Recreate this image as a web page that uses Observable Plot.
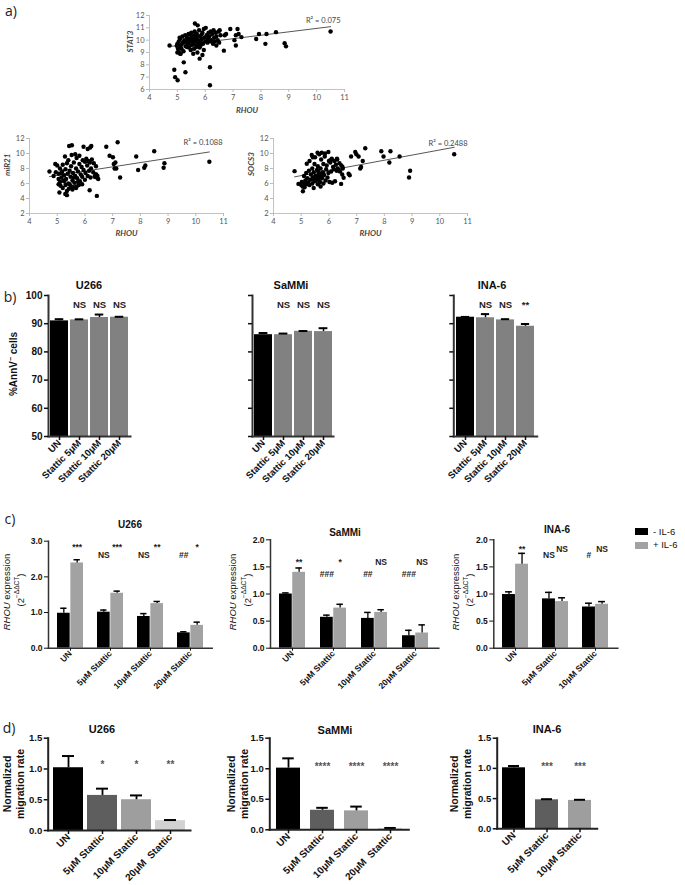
<!DOCTYPE html>
<html><head><meta charset="utf-8">
<script src="https://cdn.jsdelivr.net/npm/d3@7"></script>
<script src="https://cdn.jsdelivr.net/npm/@observablehq/plot@0.6"></script>
<style>
body{margin:0;background:#fff}
#root{position:relative;width:685px;height:885px;overflow:hidden;background:#fff}
#root svg{position:absolute}
.lbl{position:absolute;white-space:nowrap;transform:translate(-50%,-50%);font-family:'Liberation Sans',Arial,sans-serif;color:#111;line-height:1.15;text-align:center}
.rot{transform:translate(-50%,-50%) rotate(-90deg)}
</style></head><body><div id="root"></div><script>
// ---------- Panel a: scatter data (RHOU vs gene) ----------
const rhouStat3 = [4.72,4.89,4.92,5.01,5.23,5.29,5.0,5.1,5.63,5.73,5.57,5.8,5.9,5.95,6.17,6.17,6.67,6.4,6.9,7.1,7.16,7.2,7.3,7.05,7.1,6.75,6.7,7.83,7.93,8.16,8.2,8.54,8.85,8.9,10.5,
5.05,5.1,5.12,5.15,5.18,5.2,5.22,5.25,5.28,5.3,5.32,5.35,5.38,5.4,5.42,5.45,5.47,5.5,5.5,5.52,5.55,5.57,5.6,5.6,5.62,5.65,5.67,5.7,5.7,5.72,5.75,5.78,5.8,5.82,5.85,5.88,5.9,5.92,5.95,5.98,6.0,6.02,6.05,6.08,6.1,6.12,6.15,6.18,6.2,6.22,6.25,6.28,6.3,6.32,6.35,6.38,6.4,6.45,6.48,6.5,6.52,6.55,
5.25,5.35,5.4,5.45,5.48,5.53,5.58,5.63,5.68,5.73,5.77,5.83,5.87,5.15,5.1,5.08,5.0,5.02,4.98,5.05,5.12];
const stat3 = [9.57,7.6,7.0,6.75,8.2,7.4,9.0,8.9,11.35,11.2,8.9,8.5,8.8,9.2,7.8,6.35,9.15,9.57,10.9,10.4,10.9,10.5,10.25,10.0,9.57,10.5,10.4,10.1,10.5,9.7,10.5,10.65,9.75,9.5,10.7,
9.9,10.1,9.6,9.3,10.3,9.8,9.1,10.0,10.4,9.5,9.9,10.2,9.7,10.5,9.4,10.1,9.9,10.6,9.6,10.3,9.8,10.0,10.4,9.3,10.7,9.9,10.2,9.6,10.5,9.0,10.0,10.8,9.4,10.3,9.8,10.1,10.6,9.7,10.9,10.2,9.9,11.0,10.4,9.8,10.1,10.6,10.3,9.9,10.7,10.0,10.5,9.7,10.8,10.2,9.9,10.6,10.3,10.0,10.7,9.8,10.8,10.4,
9.85,9.45,10.0,10.45,9.2,10.05,9.65,10.15,9.45,10.35,9.75,9.55,10.45,9.65,9.4,10.2,9.7,9.3,9.55,9.05,8.9];

const rhouMir21 = [4.72,4.87,4.93,5.05,5.08,5.29,5.35,5.43,5.53,5.95,6.19,6.23,6.1,6.17,6.43,6.43,6.41,6.77,6.89,7.01,7.04,7.1,7.07,7.18,7.13,7.27,7.85,7.92,8.14,8.18,8.5,8.84,8.87,10.49,
5.0,5.05,5.1,5.1,5.12,5.15,5.18,5.2,5.2,5.22,5.25,5.28,5.3,5.3,5.32,5.35,5.38,5.4,5.4,5.42,5.45,5.48,5.5,5.5,5.52,5.55,5.57,5.6,5.6,5.62,5.65,5.65,5.68,5.7,5.7,5.72,5.75,5.78,5.8,5.8,5.82,5.85,5.88,5.9,5.92,5.95,6.0,6.0,6.02,6.05,6.08,6.1,6.12,6.15,6.18,6.2,6.22,6.25,6.3,6.32,6.35,6.38,6.4,6.45,6.48,
5.35,5.45,5.55,5.25,5.15,4.95,5.05,5.6,5.75,5.9,5.68];
const mir21 = [7.6,7.0,8.6,5.9,4.8,4.6,4.45,11.0,11.1,10.9,10.8,11.0,10.6,5.1,4.35,6.8,7.2,10.9,9.7,9.5,8.6,8.8,8.0,11.5,8.0,6.8,9.6,7.8,8.1,8.4,10.3,8.1,8.7,8.9,
8.4,7.3,6.2,8.0,5.7,6.8,7.6,5.4,8.5,6.4,7.1,9.6,5.8,7.9,6.6,8.7,7.3,6.0,9.1,5.3,7.7,6.9,8.3,5.6,9.8,6.4,7.4,8.8,5.5,6.1,9.9,7.0,8.0,5.6,9.4,6.7,7.6,5.8,8.6,9.7,6.3,7.2,8.2,6.9,9.1,7.8,8.9,6.5,7.4,9.3,8.4,7.0,9.0,7.7,8.8,6.8,8.0,9.2,7.5,8.7,6.9,7.2,8.3,7.0,6.6,
5.0,5.9,5.2,6.3,7.4,7.5,6.6,6.8,6.2,5.9,5.4];

const rhouSocs3 = [4.76,4.9,5.06,5.2,5.42,5.59,5.74,5.86,5.98,6.05,6.1,6.29,6.49,6.44,6.53,6.71,6.75,6.8,6.95,6.99,7.07,7.13,7.16,7.22,7.31,7.89,7.97,8.18,8.22,8.55,8.89,8.93,10.52,
5.0,5.02,5.05,5.1,5.1,5.12,5.15,5.18,5.2,5.22,5.25,5.28,5.3,5.3,5.32,5.35,5.38,5.4,5.4,5.42,5.45,5.45,5.48,5.5,5.5,5.52,5.55,5.57,5.6,5.6,5.62,5.65,5.65,5.68,5.7,5.7,5.72,5.75,5.78,5.8,5.8,5.82,5.85,5.88,5.9,5.92,5.95,5.98,6.0,6.02,6.05,6.08,6.1,6.12,6.15,6.18,6.2,6.22,6.25,6.28,6.3,6.32,6.35,6.38,6.4,6.45,6.48,6.5,
5.55,5.62,5.68,5.75,5.5,5.45,5.6,5.7,5.8];
const socs3 = [7.65,5.95,4.96,8.63,9.5,10.1,10.1,10.0,10.2,9.1,9.3,9.3,8.2,5.95,6.76,7.3,7.1,9.6,10.2,9.9,9.6,8.0,8.2,9.0,10.7,10.3,9.6,8.8,10.3,9.6,6.8,7.7,9.9,
5.8,6.2,5.6,6.0,7.0,5.5,6.4,7.4,5.9,6.7,6.1,7.7,5.8,9.0,6.5,7.2,9.8,6.0,8.0,6.8,5.4,7.5,8.6,6.3,9.5,7.0,6.6,7.8,5.9,8.3,6.9,9.9,7.3,6.2,8.0,5.6,9.2,6.7,7.5,8.6,6.0,7.1,9.6,6.4,7.9,8.4,6.8,7.4,9.0,6.2,8.8,7.6,9.2,6.1,8.2,7.9,9.0,6.3,8.5,7.7,9.2,8.0,7.8,8.7,7.6,8.4,7.2,8.0,
7.05,7.6,7.0,7.2,6.9,6.5,6.5,6.8,7.3];

// ---------- Panel b: %AnnV- cells ----------
const condB = ["UN", "Stattic 5μM", "Stattic 10μM", "Stattic 20μM"];
const annU266 = [91.0, 91.35, 92.2, 92.3], annU266Err = [0.6, 0.2, 1.05, 0.15];
const annSaMMi = [86.1, 86.1, 87.3, 87.2], annSaMMiErr = [0.6, 0.4, 0.1, 1.2];
const annINA6 = [92.3, 92.1, 91.35, 89.1], annINA6Err = [0.1, 1.3, 0.25, 0.8];
const sigBU266 = ["", "NS", "NS", "NS"], sigBSaMMi = ["", "NS", "NS", "NS"], sigBINA6 = ["", "NS", "NS", "**"];

// ---------- Panel c: RHOU expression (2^-ΔΔCT) ----------
const groupsC = ["UN", "5μM Stattic", "10μM Stattic", "20μM Stattic"];
const seriesC = ["- IL-6", "+ IL-6"];
const cU266Minus = [0.98, 1.01, 0.89, 0.43], cU266MinusErr = [0.14, 0.06, 0.08, 0.03];
const cU266Plus = [2.39, 1.54, 1.25, 0.64], cU266PlusErr = [0.09, 0.06, 0.06, 0.09];
const cSaMMiMinus = [1.00, 0.57, 0.55, 0.23], cSaMMiMinusErr = [0.02, 0.04, 0.11, 0.10];
const cSaMMiPlus = [1.40, 0.74, 0.66, 0.28], cSaMMiPlusErr = [0.08, 0.07, 0.05, 0.15];
const cINA6Minus = [0.99, 0.91, 0.76], cINA6MinusErr = [0.05, 0.12, 0.07];
const cINA6Plus = [1.55, 0.86, 0.81], cINA6PlusErr = [0.20, 0.07, 0.05];
const starsCU266 = ["***", "***", "**", "*"], hashCU266 = ["", "NS", "NS", "##"];
const starsCSaMMi = ["**", "*", "NS", "NS"], hashCSaMMi = ["", "###", "##", "###"];
const starsCINA6 = ["**", "NS", "NS"], hashCINA6 = ["", "NS", "#"];

// ---------- Panel d: normalized migration rate ----------
const condD = ["UN", "5μM Stattic", "10μM Stattic", "20μM  Stattic"];
const migU266 = [1.02, 0.57, 0.50, 0.16], migU266Err = [0.19, 0.11, 0.07, 0.01];
const migSaMMi = [1.01, 0.32, 0.31, 0.02], migSaMMiErr = [0.16, 0.04, 0.07, 0.01];
const migINA6 = [1.01, 0.48, 0.47], migINA6Err = [0.03, 0.01, 0.01];
const sigDU266 = ["", "*", "*", "**"], sigDSaMMi = ["", "****", "****", "****"], sigDINA6 = ["", "***", "***"];

// ---------- helpers ----------
const root = document.getElementById("root");
const SANS = "'Liberation Sans', Arial, sans-serif";
function place(svg, left, top) { svg.style.left = left + "px"; svg.style.top = top + "px"; root.appendChild(svg); }
function label(html, x, y, css = "", rot = false) {
  const d = document.createElement("div");
  d.className = "lbl" + (rot ? " rot" : "");
  d.innerHTML = html; d.style.left = x + "px"; d.style.top = y + "px";
  d.style.cssText += css; root.appendChild(d);
}

function scatter(xs, ys, o) {
  const data = xs.map((x, i) => ({x, y: ys[i]}));
  return Plot.plot({
    width: o.w, height: o.h, marginLeft: o.ml, marginRight: o.mr, marginTop: o.mt, marginBottom: o.mb,
    style: {fontFamily: "Lato, 'Open Sans', sans-serif", fontSize: "7.5px", background: "transparent", overflow: "visible", color: "#555"},
    x: {domain: [4, 11]},
    y: {domain: o.yDomain},
    marks: [
      Plot.ruleX([4], {stroke: "#c2c2c2"}),
      Plot.ruleY([o.yDomain[0]], {stroke: "#c2c2c2"}),
      Plot.axisX({ticks: d3.range(4, 12), tickFormat: d => String(d), tickSize: 3, tickPadding: 2, stroke: "#bbb", label: null}),
      Plot.axisY({ticks: o.yTicks, tickFormat: d => String(d), tickSize: 3, tickPadding: 2, stroke: "#bbb", label: null}),
      Plot.linearRegressionY(data, {x: "x", y: "y", stroke: "#444", strokeWidth: 0.9, ci: 0}),
      Plot.dot(data, {x: "x", y: "y", r: 2.2, fill: "#000"}),
      Plot.text([o.r2], {text: d => d, frameAnchor: "top-right", dx: o.r2dx, dy: o.r2dy, textAnchor: "end", fill: "#444", fontSize: 7.5}),
      Plot.text(["RHOU"], {text: d => d, frameAnchor: "bottom", dy: o.xlabDy, fontStyle: "italic", fontWeight: "bold", fill: "#444", fontSize: 8}),
      Plot.text([o.ylab], {text: d => d, frameAnchor: "left", dx: o.ylabDx, rotate: -90, fontStyle: "italic", fontWeight: "bold", fill: "#444", fontSize: 8})
    ]
  });
}

function barsB(vals, errs, sig, o) {
  const data = condB.map((c, i) => ({c, v: vals[i], e: vals[i] + errs[i], s: sig[i], k: i === 0 ? "UN" : "Stattic"}));
  const bw = d3.scaleBand().domain(condB).range([o.ml, o.w - o.mr]).paddingInner(0.1).paddingOuter(0.05).bandwidth();
  const cap = 4.5;
  return Plot.plot({
    width: o.w, height: o.h, marginLeft: o.ml, marginRight: o.mr, marginTop: o.mt, marginBottom: o.mb,
    style: {fontFamily: SANS, fontWeight: "bold", fontSize: "9.5px", background: "transparent", overflow: "visible", color: "#111"},
    x: {domain: condB, paddingInner: 0.1, paddingOuter: 0.05},
    y: {domain: [50, 100]},
    color: {domain: ["UN", "Stattic"], range: ["#000000", "#818181"]},
    marks: [
      Plot.barY(data, {x: "c", y1: 50, y2: "v", fill: "k"}),
      Plot.ruleX(data, {x: "c", y1: "v", y2: "e", stroke: "#000", strokeWidth: 1.5}),
      Plot.tickY(data, {x: "c", y: "e", stroke: "#000", strokeWidth: 2, insetLeft: bw / 2 - cap, insetRight: bw / 2 - cap}),
      Plot.frame({anchor: "left", stroke: "#333", strokeWidth: 2}),
      Plot.frame({anchor: "bottom", stroke: "#333", strokeWidth: 2}),
      Plot.axisY({ticks: d3.range(50, 101, 10), tickSize: 4, tickPadding: 2, strokeWidth: 1.5, fontSize: 10, tickFormat: o.yLabels ? (d => d) : (() => ""), label: null}),
      Plot.axisX({tickSize: 4, tickPadding: 1, strokeWidth: 1.5, tickRotate: -45, fontSize: 9.5, label: null}),
      Plot.text(data, {x: "c", text: "s", frameAnchor: "top", dy: 6, fontSize: 9.5, fill: "#222"})
    ]
  });
}

function grouped(groups, mV, mE, pV, pE, stars, hashes, o) {
  const bw = d3.scaleBand().domain(groups).range([o.ml, o.w - o.mr]).paddingInner(o.pi).paddingOuter(o.po).bandwidth();
  const q = bw / 4, cap = 3.5;
  const minus = groups.map((g, i) => ({g, s: seriesC[0], v: mV[i], e: mV[i] + mE[i]}));
  const plus = groups.map((g, i) => ({g, s: seriesC[1], v: pV[i], e: pV[i] + pE[i]}));
  const ann = groups.map((g, i) => ({g, star: stars[i], hash: hashes[i]}));
  return Plot.plot({
    width: o.w, height: o.h, marginLeft: o.ml, marginRight: o.mr, marginTop: o.mt, marginBottom: o.mb,
    style: {fontFamily: SANS, fontWeight: "bold", fontSize: "8.5px", background: "transparent", overflow: "visible", color: "#111"},
    x: {domain: groups, paddingInner: o.pi, paddingOuter: o.po},
    y: {domain: [0, o.ymax]},
    color: {domain: seriesC, range: ["#000000", "#a2a2a2"]},
    marks: [
      Plot.barY(minus, {x: "g", y: "v", fill: "s", insetRight: bw / 2}),
      Plot.barY(plus, {x: "g", y: "v", fill: "s", insetLeft: bw / 2}),
      Plot.ruleX(minus, {x: "g", y1: "v", y2: "e", dx: -q, stroke: "#000", strokeWidth: 1.3}),
      Plot.ruleX(plus, {x: "g", y1: "v", y2: "e", dx: q, stroke: "#000", strokeWidth: 1.3}),
      Plot.tickY(minus, {x: "g", y: "e", stroke: "#000", strokeWidth: 1.5, insetLeft: q - cap, insetRight: bw - q - cap}),
      Plot.tickY(plus, {x: "g", y: "e", stroke: "#000", strokeWidth: 1.5, insetLeft: 3 * q - cap, insetRight: q - cap}),
      Plot.frame({anchor: "left", stroke: "#333", strokeWidth: 1.5}),
      Plot.frame({anchor: "bottom", stroke: "#333", strokeWidth: 1.5}),
      Plot.axisY({ticks: o.yTicks, tickSize: 4, tickPadding: 2, tickFormat: ".1f", fontSize: 8.5, label: null}),
      Plot.axisX({tickSize: 3, tickPadding: 1, tickRotate: -45, fontSize: 8.5, label: null}),
      Plot.text(ann, {x: "g", text: "star", frameAnchor: "top", dx: q, dy: o.starDy, fontSize: 8.5, fill: "#222"}),
      Plot.text(ann, {x: "g", text: "hash", frameAnchor: "top", dx: -q, dy: o.hashDy, fontSize: 8.5, fill: "#222"})
    ]
  });
}

function barsD(conds, vals, errs, sig, o) {
  const data = conds.map((c, i) => ({c, v: vals[i], e: vals[i] + errs[i], s: sig[i]}));
  const bw = d3.scaleBand().domain(conds).range([o.ml, o.w - o.mr]).paddingInner(o.pi).paddingOuter(o.po).bandwidth();
  const cap = 6;
  return Plot.plot({
    width: o.w, height: o.h, marginLeft: o.ml, marginRight: o.mr, marginTop: o.mt, marginBottom: o.mb,
    style: {fontFamily: SANS, fontWeight: "bold", fontSize: "9px", background: "transparent", overflow: "visible", color: "#111"},
    x: {domain: conds, paddingInner: o.pi, paddingOuter: o.po},
    y: {domain: [0, 1.5]},
    color: {domain: conds, range: ["#000000", "#5e5e5e", "#9e9e9e", "#d2d2d2"]},
    marks: [
      Plot.barY(data, {x: "c", y: "v", fill: "c"}),
      Plot.ruleX(data, {x: "c", y1: "v", y2: "e", stroke: "#000", strokeWidth: 1.8}),
      Plot.tickY(data, {x: "c", y: "e", stroke: "#000", strokeWidth: 2, insetLeft: bw / 2 - cap, insetRight: bw / 2 - cap}),
      Plot.frame({anchor: "left", stroke: "#222", strokeWidth: 2}),
      Plot.frame({anchor: "bottom", stroke: "#222", strokeWidth: 2}),
      Plot.axisY({ticks: [0, 0.5, 1, 1.5], tickSize: 4, tickPadding: 2, strokeWidth: 1.5, tickFormat: ".1f", fontSize: 9.5, label: null}),
      Plot.axisX({tickSize: 4, tickPadding: 1, strokeWidth: 1.5, tickRotate: -45, fontSize: 10, label: null}),
      Plot.text(data, {x: "c", text: "s", frameAnchor: "top", dy: o.sigDy, fontSize: 10, fill: "#555"})
    ]
  });
}

// ---------- Panel a ----------
place(scatter(rhouStat3, stat3, {w: 260, h: 120, ml: 49, mr: 16, mt: 15, mb: 31, yDomain: [6, 12], yTicks: d3.range(6, 13),
  r2: "R² = 0.075", r2dx: -4, r2dy: 2, xlabDy: 23, ylab: "STAT3", ylabDx: -19}), 100, 0);
place(scatter(rhouMir21, mir21, {w: 240, h: 125, ml: 29, mr: 17, mt: 13, mb: 37, yDomain: [2, 12], yTicks: d3.range(2, 13, 2),
  r2: "R² = 0.1088", r2dx: -1, r2dy: 1, xlabDy: 22, ylab: "miR21", ylabDx: -22}), 0, 125);
place(scatter(rhouSocs3, socs3, {w: 240, h: 125, ml: 33, mr: 13, mt: 13, mb: 37, yDomain: [2, 12], yTicks: d3.range(2, 13, 2),
  r2: "R² = 0.2488", r2dx: 0, r2dy: 2, xlabDy: 22, ylab: "SOCS3", ylabDx: -22}), 240, 125);

// ---------- Panel b ----------
place(barsB(annU266, annU266Err, sigBU266, {w: 140, h: 215, ml: 48, mr: 10, mt: 15, mb: 59, yLabels: true}), 0, 280);
place(barsB(annSaMMi, annSaMMiErr, sigBSaMMi, {w: 140, h: 215, ml: 52, mr: 7, mt: 15, mb: 59, yLabels: false}), 200, 280);
place(barsB(annINA6, annINA6Err, sigBINA6, {w: 145, h: 215, ml: 53.3, mr: 8.3, mt: 15, mb: 59, yLabels: false}), 400, 280);

// ---------- Panel c ----------
place(grouped(groupsC, cU266Minus, cU266MinusErr, cU266Plus, cU266PlusErr, starsCU266, hashCU266,
  {w: 215, h: 185, ml: 48, mr: 3.3, mt: 20.7, mb: 57.3, pi: 0.344, po: 0.183, ymax: 3, yTicks: [0, 1, 2, 3], starDy: 2.5, hashDy: 10.5}), 0, 520);
place(grouped(groupsC, cSaMMiMinus, cSaMMiMinusErr, cSaMMiPlus, cSaMMiPlusErr, starsCSaMMi, hashCSaMMi,
  {w: 215, h: 185, ml: 40, mr: 6.7, mt: 19.3, mb: 57.3, pi: 0.358, po: 0.217, ymax: 2, yTicks: [0, 0.5, 1, 1.5, 2], starDy: 19.5, hashDy: 31.5}), 230, 520);
place(grouped(groupsC.slice(0, 3), cINA6Minus, cINA6MinusErr, cINA6Plus, cINA6PlusErr, starsCINA6, hashCINA6,
  {w: 175, h: 185, ml: 43.3, mr: 7.7, mt: 19.3, mb: 57.3, pi: 0.359, po: 0.2, ymax: 2, yTicks: [0, 0.5, 1, 1.5, 2], starDy: 6, hashDy: 12}), 450, 520);

// ---------- Panel d ----------
place(barsD(condD, migU266, migU266Err, sigDU266, {w: 200, h: 165, ml: 47.7, mr: 10, mt: 17.7, mb: 55, pi: 0.128, po: 0.132, sigDy: 23}), 0, 720);
place(barsD(condD, migSaMMi, migSaMMiErr, sigDSaMMi, {w: 190, h: 165, ml: 39.3, mr: 11.7, mt: 17.7, mb: 55.7, pi: 0.3, po: 0.136, sigDy: 25}), 230, 720);
place(barsD(condD.slice(0, 3), migINA6, migINA6Err, sigDINA6, {w: 160, h: 165, ml: 46.7, mr: 13.3, mt: 17.7, mb: 56.7, pi: 0.288, po: 0.128, sigDy: 25}), 450, 720);

// ---------- Text: panel letters, titles, axis titles, legend ----------
const letterCss = "font-family:'Open Sans',sans-serif;font-size:14px;color:#222;";
label("a)", 11, 11, letterCss); label("b)", 10, 297, letterCss); label("c)", 10, 519, letterCss); label("d)", 9, 728, letterCss);

const tB = "font-weight:bold;font-size:11px;";
label("U266", 89, 285, tB); label("SaMMi", 291, 285, tB); label("INA-6", 492, 285, tB);
label("%AnnV<sup style='font-size:7px'>−</sup> cells", 13, 364, "font-weight:bold;font-size:10px;", true);

const tC = "font-weight:bold;font-size:10px;";
label("U266", 130, 525, tC); label("SaMMi", 345, 533, tC); label("INA-6", 557, 530, tC);
const yC1 = "<i>RHOU</i> expression", yC2 = "(2<sup style='font-size:6.5px'>−ΔΔCT</sup>)";
const yCss = "font-size:9.5px;";
label(yC1, 7, 592, yCss, true); label(yC2, 19.5, 590, yCss, true);
label(yC1, 233, 592, yCss, true); label(yC2, 247, 590, yCss, true);
label(yC1, 456, 592, yCss, true); label(yC2, 469, 590, yCss, true);

// legend (panel c)
function legendItem(color, text, y) {
  const s = document.createElement("div");
  s.style.cssText = `position:absolute;left:635px;top:${y - 3.5}px;width:13px;height:7px;background:${color}`;
  root.appendChild(s);
  label(text, 653, y, "transform:translate(0,-50%);font-size:9.5px;");
}
legendItem("#000000", seriesC[0], 531.5);
legendItem("#a2a2a2", seriesC[1], 545);

const tD = "font-weight:bold;font-size:11px;";
label("U266", 102, 729, tD); label("SaMMi", 335, 730, tD); label("INA-6", 547, 729, tD);
const yD = "Normalized<br>migration rate", yDCss = "font-weight:bold;font-size:10.5px;line-height:1.2;";
label(yD, 14, 784, yDCss, true); label(yD, 238, 784, yDCss, true); label(yD, 461, 784, yDCss, true);
</script></body></html>
